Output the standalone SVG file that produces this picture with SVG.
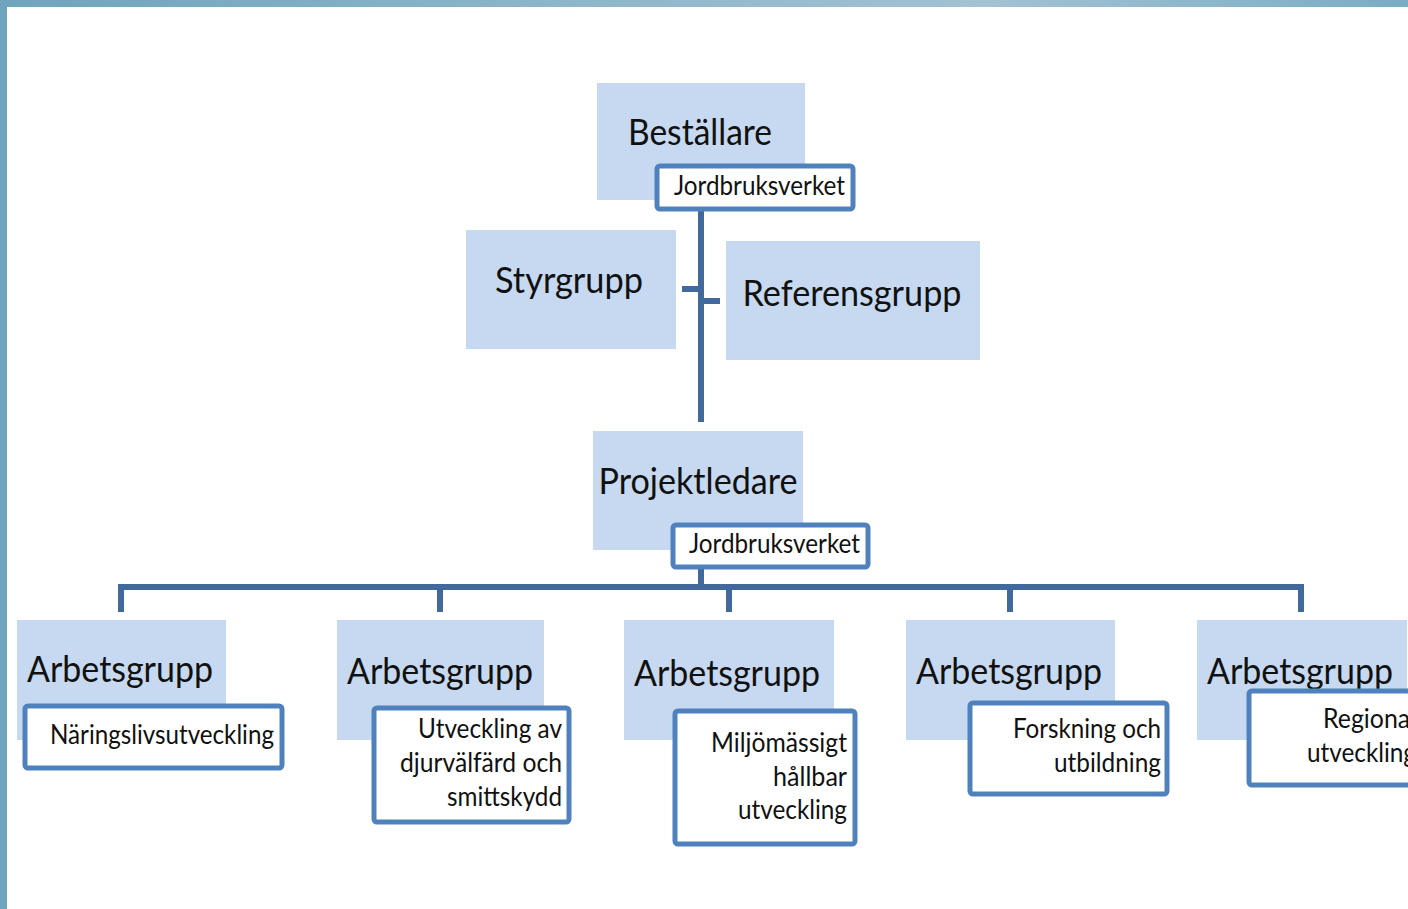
<svg xmlns="http://www.w3.org/2000/svg" width="1408" height="909" viewBox="0 0 1408 909">
<defs>
<linearGradient id="band" x1="0" y1="0" x2="1" y2="0">
<stop offset="0" stop-color="#6ea5bd"/>
<stop offset="0.7" stop-color="#a3c2d2"/>
<stop offset="1" stop-color="#79adc4"/>
</linearGradient>
<style>
.box{fill:#c6d9f0;}
.sub{fill:#ffffff;stroke:#4f81bd;stroke-width:5;}
.big{font-family:Lato,"Open Sans",sans-serif;font-size:37px;fill:#111;text-anchor:middle;}
.sm{font-family:Lato,"Open Sans",sans-serif;font-size:26px;fill:#111;text-anchor:end;}
.con{stroke:#41699b;stroke-width:6;fill:none;}
</style>
</defs>
<rect x="0" y="0" width="1408" height="909" fill="#ffffff"/>
<rect x="0" y="0" width="1408" height="7" fill="url(#band)"/>
<rect x="0" y="0" width="7" height="909" fill="#6ea5bd"/>

<g id="connectors">
<path class="con" d="M701 208 V422"/>
<path class="con" d="M682 289 H701"/>
<path class="con" d="M701 301 H720"/>
<path class="con" d="M701 566 V587"/>
<path class="con" d="M118 587 H1304"/>
<path class="con" d="M121 587 V612 M440 587 V612 M729 587 V612 M1010 587 V612 M1301 587 V612"/>
</g>

<g id="bestallare">
<rect class="box" x="597" y="83" width="208" height="117"/>
<text class="big" x="700" y="145" textLength="144" lengthAdjust="spacingAndGlyphs">Beställare</text>
<rect class="sub" x="657" y="166" width="196" height="43" rx="3"/>
<text class="sm" x="845" y="195" textLength="171" lengthAdjust="spacingAndGlyphs">Jordbruksverket</text>
</g>

<g id="styrgrupp">
<rect class="box" x="466" y="230" width="210" height="119"/>
<text class="big" x="569" y="293" textLength="148" lengthAdjust="spacingAndGlyphs">Styrgrupp</text>
</g>

<g id="referensgrupp">
<rect class="box" x="726" y="241" width="254" height="119"/>
<text class="big" x="852" y="306" textLength="219" lengthAdjust="spacingAndGlyphs">Referensgrupp</text>
</g>

<g id="projektledare">
<rect class="box" x="593" y="431" width="210" height="119"/>
<text class="big" x="698" y="494" textLength="199" lengthAdjust="spacingAndGlyphs">Projektledare</text>
<rect class="sub" x="673" y="525" width="195" height="42" rx="3"/>
<text class="sm" x="860" y="553" textLength="171" lengthAdjust="spacingAndGlyphs">Jordbruksverket</text>
</g>

<g id="ag1">
<rect class="box" x="17" y="620" width="209" height="120"/>
<text class="big" x="120" y="682" textLength="186" lengthAdjust="spacingAndGlyphs">Arbetsgrupp</text>
<rect class="sub" x="25" y="706" width="257" height="62" rx="3"/>
<text class="sm" x="274" y="744" textLength="224" lengthAdjust="spacingAndGlyphs">Näringslivsutveckling</text>
</g>

<g id="ag2">
<rect class="box" x="337" y="620" width="207" height="120"/>
<text class="big" x="440" y="684" textLength="186" lengthAdjust="spacingAndGlyphs">Arbetsgrupp</text>
<rect class="sub" x="374" y="708" width="195" height="114" rx="3"/>
<text class="sm" x="562" y="738" textLength="144" lengthAdjust="spacingAndGlyphs">Utveckling av</text>
<text class="sm" x="562" y="772" textLength="162" lengthAdjust="spacingAndGlyphs">djurvälfärd och</text>
<text class="sm" x="562" y="806" textLength="115" lengthAdjust="spacingAndGlyphs">smittskydd</text>
</g>

<g id="ag3">
<rect class="box" x="624" y="620" width="210" height="120"/>
<text class="big" x="727" y="686" textLength="186" lengthAdjust="spacingAndGlyphs">Arbetsgrupp</text>
<rect class="sub" x="675" y="711" width="180" height="133" rx="3"/>
<text class="sm" x="847" y="752" textLength="136" lengthAdjust="spacingAndGlyphs">Miljömässigt</text>
<text class="sm" x="847" y="786" textLength="74" lengthAdjust="spacingAndGlyphs">hållbar</text>
<text class="sm" x="847" y="819" textLength="109" lengthAdjust="spacingAndGlyphs">utveckling</text>
</g>

<g id="ag4">
<rect class="box" x="906" y="620" width="209" height="120"/>
<text class="big" x="1009" y="684" textLength="186" lengthAdjust="spacingAndGlyphs">Arbetsgrupp</text>
<rect class="sub" x="970" y="703" width="197" height="91" rx="3"/>
<text class="sm" x="1161" y="738" textLength="148" lengthAdjust="spacingAndGlyphs">Forskning och</text>
<text class="sm" x="1161" y="772" textLength="107" lengthAdjust="spacingAndGlyphs">utbildning</text>
</g>

<g id="ag5">
<rect class="box" x="1197" y="620" width="210" height="120"/>
<text class="big" x="1300" y="684" textLength="186" lengthAdjust="spacingAndGlyphs">Arbetsgrupp</text>
<rect class="sub" x="1249" y="691" width="200" height="94" rx="3"/>
<text class="sm" x="1416" y="728" textLength="93" lengthAdjust="spacingAndGlyphs">Regional</text>
<text class="sm" x="1416" y="762" textLength="109" lengthAdjust="spacingAndGlyphs">utveckling</text>
</g>
</svg>
